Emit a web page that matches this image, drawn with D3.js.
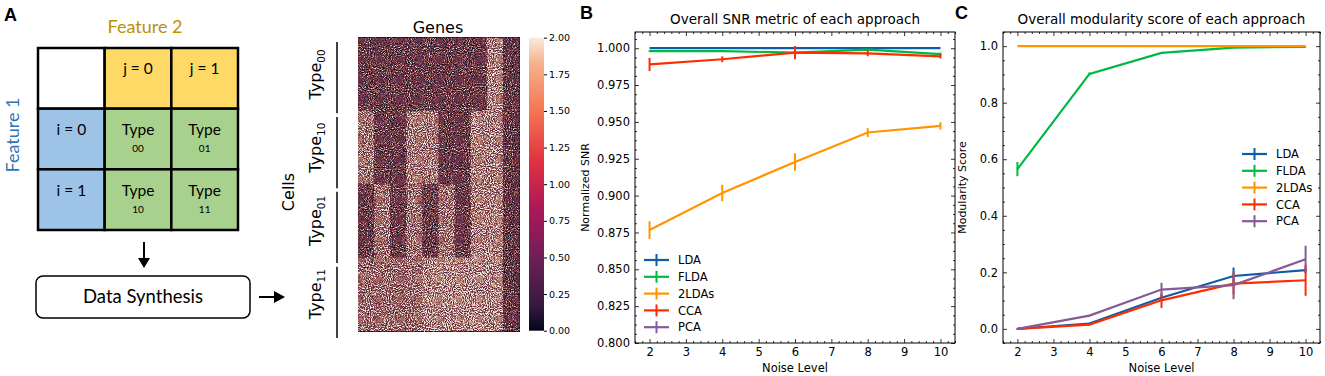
<!DOCTYPE html>
<html>
<head>
<meta charset="utf-8">
<script src="https://cdn.jsdelivr.net/npm/d3@7"></script>
<style>
  body { margin: 0; background: #fff; }
  svg { display: block; }
  text { font-family: "DejaVu Sans", sans-serif; fill: #000; }
</style>
</head>
<body>
<div id="fig"></div>
<script>
const width = 1325;
const height = 376;

// ---- panel A : design grid ----
const gridCols = ["", "j = 0", "j = 1"];
const gridRowLabels = ["i = 0", "i = 1"];
const gridTypes = [["00", "01"], ["10", "11"]];

// ---- heatmap : block means of the synthesized counts ----
const cellTypes = ["00", "10", "01", "11"];
const geneBlocks = ["g1", "g2", "g3", "g4", "g5", "g6", "g7", "g8", "g9", "g10"];
const type00Means = [0.85, 0.85, 0.85, 0.85, 0.85, 0.85, 0.85, 0.85, 1.45, 0.8];
const type10Means = [1.35, 0.85, 0.85, 1.4, 1.4, 0.85, 0.85, 1.45, 1.45, 0.8];
const type01Means = [0.85, 1.35, 0.85, 1.35, 0.85, 1.35, 0.85, 1.45, 1.45, 0.8];
const type11Means = [1.3, 1.3, 1.3, 1.3, 1.5, 1.5, 1.5, 1.5, 1.5, 0.8];
const colorbarTicks = [0, 0.25, 0.5, 0.75, 1.0, 1.25, 1.5, 1.75, 2.0];
const rocketStops = [0, 0.083, 0.25, 0.417, 0.583, 0.75, 0.917, 1];
const rocketColors = ["#03051A", "#35193E", "#701F57", "#AD1759", "#E13342", "#F37651", "#F6B48F", "#FAEBDD"];

// ---- panels B and C ----
const noiseLevels = [2, 4, 6, 8, 10];
const noiseTicks = [2, 3, 4, 5, 6, 7, 8, 9, 10];
const methods = ["LDA", "FLDA", "2LDAs", "CCA", "PCA"];
const methodColors = ["#0C5DA5", "#00B945", "#FF9500", "#FF2C00", "#845B97"];

const snrMeans = [
  [1.000, 1.000, 1.000, 1.000, 1.000],
  [0.998, 0.998, 0.997, 0.999, 0.996],
  [0.8766, 0.9018, 0.9228, 0.9428, 0.9473],
  [0.989, 0.9925, 0.997, 0.9965, 0.9945],
  [null, null, null, null, null]   // PCA falls below the shown range
];
const snrErrs = [
  [0, 0, 0, 0, 0],
  [0.0005, 0.0005, 0.0008, 0.0005, 0.001],
  [0.006, 0.0056, 0.006, 0.003, 0.0025],
  [0.0045, 0.002, 0.0045, 0.002, 0.0015],
  [0, 0, 0, 0, 0]
];
const snrTicks = [0.800, 0.825, 0.850, 0.875, 0.900, 0.925, 0.950, 0.975, 1.000];

const modMeans = [
  [0.0, 0.019, 0.11, 0.187, 0.208],
  [0.565, 0.902, 0.976, 0.995, 0.997],
  [1.0, 1.0, 1.0, 1.0, 1.0],
  [0.0, 0.015, 0.101, 0.16, 0.172],
  [0.0, 0.047, 0.139, 0.155, 0.246]
];
const modErrs = [
  [0.002, 0.003, 0.01, 0.03, 0.01],
  [0.025, 0.005, 0.003, 0.002, 0.001],
  [0, 0, 0, 0, 0],
  [0.001, 0.003, 0.027, 0.038, 0.055],
  [0.001, 0.003, 0.024, 0.05, 0.048]
];
const modTicks = [0.0, 0.2, 0.4, 0.6, 0.8, 1.0];

const svg = d3.select("#fig").append("svg")
  .attr("width", width)
  .attr("height", height);
const defs = svg.append("defs");

// panel letters
svg.selectAll("text.letter")
  .data([["A", 4, 21], ["B", 580, 19], ["C", 955, 19]])
  .enter().append("text")
  .attr("x", d => d[1]).attr("y", d => d[2])
  .style("font-family", "Liberation Sans, Arial, sans-serif")
  .style("font-weight", "bold").style("font-size", "18px")
  .text(d => d[0]);

// ================= panel A =================
const sansA = "Lato, 'Open Sans', sans-serif";
const gx = d3.scaleBand().domain([0, 1, 2]).range([38, 238]);
const gy = d3.scaleBand().domain([0, 1, 2]).range([48, 230]);
const cells = [];
[0, 1, 2].forEach(r => [0, 1, 2].forEach(c => cells.push({ r, c })));
const cellFill = d => (d.r === 0 && d.c === 0) ? "#fff" : d.r === 0 ? "#FFD966" : d.c === 0 ? "#9DC3E6" : "#A9D18E";

const gA = svg.append("g");
gA.selectAll("rect").data(cells).enter().append("rect")
  .attr("x", d => gx(d.c)).attr("y", d => gy(d.r))
  .attr("width", gx.bandwidth()).attr("height", gy.bandwidth())
  .attr("fill", cellFill).attr("stroke", "#000").attr("stroke-width", 2.5);

gA.selectAll("text.col").data(gridCols.slice(1)).enter().append("text")
  .attr("x", (d, i) => gx(i + 1) + gx.bandwidth() / 2)
  .attr("y", gy(0) + gy.bandwidth() / 2 - 4)
  .attr("text-anchor", "middle").style("font-family", sansA).style("font-size", "15.5px")
  .text(d => d);
gA.selectAll("text.row").data(gridRowLabels).enter().append("text")
  .attr("x", gx(0) + gx.bandwidth() / 2)
  .attr("y", (d, i) => gy(i + 1) + gy.bandwidth() / 2 - 4)
  .attr("text-anchor", "middle").style("font-family", sansA).style("font-size", "15.5px")
  .text(d => d);
gridTypes.forEach((row, r) => row.forEach((t, c) => {
  const cx = gx(c + 1) + gx.bandwidth() / 2, cy = gy(r + 1) + gy.bandwidth() / 2;
  gA.append("text").attr("x", cx).attr("y", cy - 4).attr("text-anchor", "middle")
    .style("font-family", sansA).style("font-size", "15.5px").text("Type");
  gA.append("text").attr("x", cx).attr("y", cy + 13).attr("text-anchor", "middle")
    .style("font-family", sansA).style("font-size", "10px").text(t);
}));

gA.append("text").attr("x", 145).attr("y", 33).attr("text-anchor", "middle")
  .style("font-family", sansA).style("font-size", "18px").style("fill", "#BF9000")
  .text("Feature 2");
gA.append("text").attr("transform", "translate(19,135) rotate(-90)").attr("text-anchor", "middle")
  .style("font-family", sansA).style("font-size", "18px").style("fill", "#2E75B6")
  .text("Feature 1");

// arrows and synthesis box
gA.append("line").attr("x1", 144).attr("x2", 144).attr("y1", 242).attr("y2", 260)
  .attr("stroke", "#000").attr("stroke-width", 2);
gA.append("path").attr("d", "M138,258 L150,258 L144,268 Z").attr("fill", "#000");
gA.append("rect").attr("x", 36).attr("y", 276).attr("width", 214).attr("height", 42)
  .attr("rx", 7).attr("fill", "#fff").attr("stroke", "#000").attr("stroke-width", 1.5);
gA.append("text").attr("x", 143).attr("y", 303).attr("text-anchor", "middle")
  .style("font-family", sansA).style("font-size", "18.5px").text("Data Synthesis");
gA.append("line").attr("x1", 259).attr("x2", 276).attr("y1", 297).attr("y2", 297)
  .attr("stroke", "#000").attr("stroke-width", 2);
gA.append("path").attr("d", "M274,291 L285,297 L274,303 Z").attr("fill", "#000");

// ================= heatmap =================
const rocket = d3.scaleLinear().domain(rocketStops).range(rocketColors).interpolate(d3.interpolateRgb);
const hx = d3.scaleBand().domain(geneBlocks).range([358, 519]);
const hy = d3.scaleBand().domain(cellTypes).range([37.7, 330.7]);
const typeMeans = [type00Means, type10Means, type01Means, type11Means];
const blocks = [];
cellTypes.forEach((t, i) => geneBlocks.forEach((g, j) => blocks.push({ t, g, v: typeMeans[i][j] })));

// grain filter: block value + noise, mapped through rocket, then softened
const tbl = d3.range(33).map(i => d3.rgb(rocket(i / 32)));
const filt = defs.append("filter").attr("id", "grain")
  .attr("x", 0).attr("y", 0).attr("width", 1).attr("height", 1)
  .attr("color-interpolation-filters", "sRGB");
filt.append("feTurbulence").attr("type", "fractalNoise").attr("baseFrequency", 0.95)
  .attr("numOctaves", 2).attr("seed", 5).attr("result", "noise");
filt.append("feColorMatrix").attr("in", "noise").attr("type", "matrix")
  .attr("values", "1 0 0 0 0  1 0 0 0 0  1 0 0 0 0  0 0 0 0 1").attr("result", "gray");
filt.append("feComposite").attr("in", "SourceGraphic").attr("in2", "gray")
  .attr("operator", "arithmetic").attr("k1", 0).attr("k2", 1).attr("k3", 2.0).attr("k4", -1.0)
  .attr("result", "sum");
const ct = filt.append("feComponentTransfer").attr("in", "sum").attr("result", "mapped");
[["feFuncR", "r"], ["feFuncG", "g"], ["feFuncB", "b"]].forEach(([f, k]) => {
  ct.append(f).attr("type", "table").attr("tableValues", tbl.map(c => (c[k] / 255).toFixed(3)).join(" "));
});
filt.append("feGaussianBlur").attr("in", "mapped").attr("stdDeviation", 0.55).attr("result", "soft");
filt.append("feColorMatrix").attr("in", "soft").attr("type", "saturate").attr("values", 0.4);

const gH = svg.append("g").attr("filter", "url(#grain)");
gH.selectAll("rect").data(blocks).enter().append("rect")
  .attr("x", d => hx(d.g)).attr("y", d => hy(d.t))
  .attr("width", hx.bandwidth() + 0.5).attr("height", hy.bandwidth() + 0.5)
  .attr("fill", d => { const c = Math.round(d.v / 2 * 255); return `rgb(${c},${c},${c})`; });

svg.append("text").attr("x", 438).attr("y", 33).attr("text-anchor", "middle")
  .style("font-size", "16px").text("Genes");
svg.append("text").attr("transform", "translate(294,192) rotate(-90)").attr("text-anchor", "middle")
  .style("font-size", "16px").text("Cells");

const segY = d3.scaleBand().domain(cellTypes).range([42, 338]).paddingInner(0.05);
svg.selectAll("line.seg").data(cellTypes).enter().append("line")
  .attr("x1", 337).attr("x2", 337)
  .attr("y1", d => segY(d)).attr("y2", d => segY(d) + segY.bandwidth())
  .attr("stroke", "#000").attr("stroke-width", 1.5);
cellTypes.forEach(t => {
  const tx = svg.append("text")
    .attr("transform", `translate(321,${hy(t) + hy.bandwidth() / 2}) rotate(-90)`)
    .attr("text-anchor", "middle").style("font-size", "16px");
  tx.append("tspan").text("Type");
  tx.append("tspan").attr("dy", 4).style("font-size", "10.5px").text(t);
});

// colorbar
const cbScale = d3.scaleLinear().domain([0, 2]).range([330.7, 37.7]);
const grad = defs.append("linearGradient").attr("id", "cbar")
  .attr("x1", 0).attr("y1", 1).attr("x2", 0).attr("y2", 0);
grad.selectAll("stop").data(rocketStops).enter().append("stop")
  .attr("offset", d => d).attr("stop-color", (d, i) => rocketColors[i]);
svg.append("rect").attr("x", 529).attr("y", 37.7).attr("width", 15).attr("height", 293)
  .attr("fill", "url(#cbar)");
const cbAxis = svg.append("g").attr("transform", "translate(544,0)")
  .call(d3.axisRight(cbScale).tickValues(colorbarTicks).tickFormat(d3.format(".2f")).tickSize(3).tickPadding(2));
cbAxis.select(".domain").remove();
cbAxis.selectAll("text").style("font-size", "9.5px").style("font-family", "DejaVu Sans");

// ================= line panels =================
function drawPanel(p) {
  const x = d3.scaleLinear().domain([1.6, 10.4]).range([p.x0, p.x1]);
  const y = d3.scaleLinear().domain(p.yDomain).range([p.y1, p.y0]);
  const g = svg.append("g");
  const clipId = "clip" + p.id;
  defs.append("clipPath").attr("id", clipId).append("rect")
    .attr("x", p.x0).attr("y", p.y0).attr("width", p.x1 - p.x0).attr("height", p.y1 - p.y0);

  const xMinor = d3.range(8, 53).map(i => i * 0.2).filter(v => Math.abs(v - Math.round(v)) > 1e-6);
  const yMinor = d3.range(0, 200).map(i => p.yDomain[0] + i * p.yMinorStep)
    .filter(v => v <= p.yDomain[1] && !p.yTicks.some(t => Math.abs(t - v) < 1e-6));

  const addAxis = (axis, tf, minor, labels) => {
    const a = g.append("g").attr("transform", tf);
    a.call(axis.tickSize(-4));
    if (!labels) a.selectAll("text").remove();
    a.select(".domain").remove();
    a.selectAll("line").attr("stroke-width", 0.8);
    const m = g.append("g").attr("transform", tf);
    m.call(minor.tickSize(-2).tickFormat(""));
    m.select(".domain").remove();
    m.selectAll("line").attr("stroke-width", 0.8);
    return a;
  };
  const bx = addAxis(d3.axisBottom(x).tickValues(noiseTicks).tickFormat(d3.format("d")).tickPadding(5),
    `translate(0,${p.y1})`, d3.axisBottom(x).tickValues(xMinor), true);
  addAxis(d3.axisTop(x).tickValues(noiseTicks), `translate(0,${p.y0})`, d3.axisTop(x).tickValues(xMinor), false);
  const ly = addAxis(d3.axisLeft(y).tickValues(p.yTicks).tickFormat(d3.format(p.fmt)).tickPadding(5),
    `translate(${p.x0},0)`, d3.axisLeft(y).tickValues(yMinor), true);
  addAxis(d3.axisRight(y).tickValues(p.yTicks), `translate(${p.x1},0)`, d3.axisRight(y).tickValues(yMinor), false);
  [bx, ly].forEach(a => a.selectAll("text").style("font-size", "11.5px").style("font-family", "DejaVu Sans").attr("fill", "#000"));

  g.append("rect").attr("x", p.x0).attr("y", p.y0).attr("width", p.x1 - p.x0).attr("height", p.y1 - p.y0)
    .attr("fill", "none").attr("stroke", "#000").attr("stroke-width", 1);

  const plot = g.append("g").attr("clip-path", `url(#${clipId})`);
  const line = d3.line().defined(d => d.v != null).x(d => x(d.n)).y(d => y(d.v));
  methods.forEach((m, i) => {
    const pts = noiseLevels.map((n, k) => ({ n, v: p.means[i][k], e: p.errs[i][k] }));
    plot.append("path").datum(pts).attr("d", line)
      .attr("fill", "none").attr("stroke", methodColors[i]).attr("stroke-width", 2.2);
    plot.selectAll(null).data(pts.filter(d => d.v != null)).enter().append("line")
      .attr("x1", d => x(d.n)).attr("x2", d => x(d.n))
      .attr("y1", d => y(d.v - d.e)).attr("y2", d => y(d.v + d.e))
      .attr("stroke", methodColors[i]).attr("stroke-width", 2);
  });

  g.append("text").attr("x", (p.x0 + p.x1) / 2).attr("y", 24).attr("text-anchor", "middle")
    .style("font-size", "13.5px").text(p.title);
  g.append("text").attr("x", (p.x0 + p.x1) / 2).attr("y", 372).attr("text-anchor", "middle")
    .style("font-size", "11.5px").text("Noise Level");
  g.append("text").attr("transform", `translate(${p.yLabelX},${(p.y0 + p.y1) / 2}) rotate(-90)`)
    .attr("text-anchor", "middle").style("font-size", "11px").text(p.ylabel);

  const lg = g.append("g").attr("transform", `translate(${p.legX},${p.legY})`);
  methods.forEach((m, i) => {
    const yy = i * 16.8;
    lg.append("line").attr("x1", 0).attr("x2", 25).attr("y1", yy).attr("y2", yy)
      .attr("stroke", methodColors[i]).attr("stroke-width", 2.2);
    lg.append("line").attr("x1", 12.5).attr("x2", 12.5).attr("y1", yy - 6).attr("y2", yy + 6)
      .attr("stroke", methodColors[i]).attr("stroke-width", 2);
    lg.append("text").attr("x", 34).attr("y", yy + 4.2).style("font-size", "11.5px").text(m);
  });
}

drawPanel({
  id: "B", x0: 635, x1: 955, y0: 32, y1: 343, yDomain: [0.8, 1.011],
  yTicks: snrTicks, yMinorStep: 0.00625, fmt: ".3f",
  means: snrMeans, errs: snrErrs,
  title: "Overall SNR metric of each approach", ylabel: "Normalized SNR", yLabelX: 589,
  legX: 644, legY: 260
});
drawPanel({
  id: "C", x0: 1003, x1: 1320, y0: 32, y1: 343, yDomain: [-0.05, 1.05],
  yTicks: modTicks, yMinorStep: 0.05, fmt: ".1f",
  means: modMeans, errs: modErrs,
  title: "Overall modularity score of each approach", ylabel: "Modularity Score", yLabelX: 966,
  legX: 1242, legY: 154
});
</script>
</body>
</html>
